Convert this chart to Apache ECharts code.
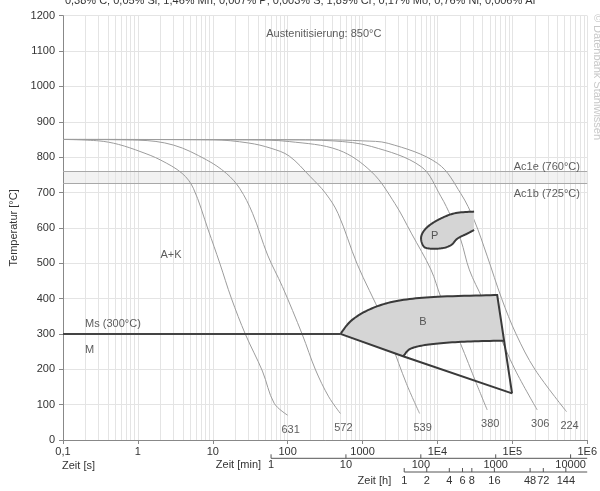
<!DOCTYPE html>
<html>
<head>
<meta charset="utf-8">
<script src="https://cdn.jsdelivr.net/npm/echarts@6/dist/echarts.min.js"></script>
<style>
  html, body { margin: 0; padding: 0; background: #fff; }
  #chart { width: 600px; height: 491px; }
</style>
</head>
<body>
<div id="chart"></div>
<script>
// ZTU-Schaubild (kontinuierliche Abkühlung)
const composition = '0,38% C; 0,05% Si; 1,46% Mn; 0,007% P; 0,003% S; 1,89% Cr; 0,17% Mo; 0,76% Ni; 0,006% Al';
const austenitizing = 'Austenitisierung: 850°C';
const watermark = '© Datenbank Stahlwissen';

// Achsen
const secLabels = ['0,1', '1', '10', '100', '1000', '1E4', '1E5', '1E6'];
const minTicks = [1, 10, 100, 1000, 10000];
const hourTicks = [1, 2, 4, 6, 8, 16, 48, 72, 144];

// Umwandlungspunkte [°C]
const ac1e = 760;
const ac1b = 725;
const msTemp = 300;

// Abkühlkurven [Zeit s, Temperatur °C]
const curve1 = [[0.1, 850], [0.3, 846], [0.55, 836], [1.1, 815], [2, 792], [3.9, 754], [5.5, 712], [8.7, 594], [12.4, 500], [17.7, 401], [27.4, 298], [46, 195], [66, 104], [100, 70]];
const curve2 = [[0.1, 850], [1, 848], [3, 834], [8.3, 792], [15.2, 754], [22.8, 712], [34, 641], [54, 523], [85, 434], [157, 298], [236, 198], [354, 122], [506, 75]];
const curve3 = [[0.1, 850], [10, 849], [30, 840], [60, 825], [105, 803], [200, 745], [320, 698], [470, 641], [850, 497], [1795, 349], [2432, 273], [3846, 160], [5780, 75]];
const curve4 = [[0.1, 850], [30, 849], [105, 844], [479, 820], [1324, 758], [2700, 669], [4477, 585], [8220, 481], [11070, 405], [20300, 273], [33100, 160], [46200, 85]];
const curve5 = [[0.1, 850], [100, 849], [400, 846], [1324, 830], [6067, 773], [11170, 688], [15150, 632], [20500, 566], [26700, 481], [40000, 400], [62800, 311], [108000, 200], [215000, 85]];
const curve6 = [[0.1, 850], [300, 849], [1000, 846], [2200, 839], [10090, 782], [20500, 697], [30900, 622], [46200, 520], [72000, 400], [112000, 300], [200000, 200], [530000, 80]];
const hardness = [631, 572, 539, 380, 306, 224];

// Bainitgebiet
const bTop = [[506, 300], [720, 339], [1324, 372], [2985, 394], [10090, 405], [62800, 410]];
const bRight = [[62800, 410], [77600, 281], [99100, 132]];
const bInner = [[77600, 281], [22760, 278], [8230, 271], [4477, 259], [3581, 240], [3475, 237]];
const bLower = [[506, 300], [3475, 237], [99100, 132]];

// Perlitgebiet (rechts offen)
const pOutline = [[30850, 646], [16790, 641], [10090, 622], [7066, 599], [6067, 575], [6395, 551], [7447, 542], [11160, 542], [15140, 551], [18570, 570], [25170, 584], [30850, 594]];

// Gefügebeschriftungen [Zeit s, Temperatur °C, Text]
const phaseLabels = [[2.0, 523, 'A+K'], [0.197, 327, 'Ms (300°C)'], [0.197, 256, 'M']];
const centerLabels = [[6395, 334, 'B'], [9206, 577, 'P'], [304, 1148, austenitizing]];
const ac1Labels = [[104500, 773, 'Ac1e (760°C)'], [104500, 696, 'Ac1b (725°C)']];

const FONT = '"Liberation Sans", Arial, sans-serif';
const TEXT = '#333';
const curves = [curve1, curve2, curve3, curve4, curve5, curve6];

// Grid-Hilfslinien bei 2..9 jeder Dekade
const minorX = [];
for (let d = -1; d <= 5; d++) {
  for (let m = 2; m <= 9; m++) minorX.push({ xAxis: m * Math.pow(10, d) });
}

// Catmull-Rom-Glättung in Pixelkoordinaten
function smoothPx(pts, steps) {
  const out = [];
  for (let i = 0; i < pts.length - 1; i++) {
    const p0 = pts[i - 1] || pts[i], p1 = pts[i], p2 = pts[i + 1], p3 = pts[i + 2] || pts[i + 1];
    for (let s = 0; s < steps; s++) {
      const t = s / steps, t2 = t * t, t3 = t2 * t;
      const f = k => 0.5 * (2 * p1[k] + (-p0[k] + p2[k]) * t + (2 * p0[k] - 5 * p1[k] + 4 * p2[k] - p3[k]) * t2 + (-p0[k] + 3 * p1[k] - 3 * p2[k] + p3[k]) * t3);
      out.push([f(0), f(1)]);
    }
  }
  out.push(pts[pts.length - 1]);
  return out;
}

const chart = echarts.init(document.getElementById('chart'));

const curveSeries = curves.map((c, i) => ({
  type: 'line', name: 'K' + hardness[i], data: c, smooth: 0.35, showSymbol: false, silent: true,
  lineStyle: { color: '#9c9c9c', width: 1 }, z: 3
}));

chart.setOption({
  animation: false,
  textStyle: { fontFamily: FONT },
  grid: { left: 61.7, right: 8.7, top: 15.7, bottom: 51, containLabel: false },
  xAxis: {
    type: 'log', logBase: 10, min: 0.1, max: 1e6, splitNumber: 7,
    axisLine: { lineStyle: { color: '#888' } },
    axisTick: { length: 4, lineStyle: { color: '#888' } },
    axisLabel: { formatter: v => secLabels[Math.round(Math.log10(v)) + 1], color: TEXT, fontSize: 11, margin: 6, fontFamily: FONT },
    splitLine: { show: true, lineStyle: { color: '#e4e4e4' } }
  },
  yAxis: {
    type: 'value', min: 0, max: 1200, interval: 100,
    axisLine: { show: true, lineStyle: { color: '#888' } },
    axisTick: { show: true, length: 4, lineStyle: { color: '#888' } },
    axisLabel: { formatter: v => String(v), color: TEXT, fontSize: 11, margin: 8, fontFamily: FONT },
    splitLine: { lineStyle: { color: '#e4e4e4' } },
    name: 'Temperatur [°C]', nameLocation: 'middle', nameGap: 44,
    nameTextStyle: { color: TEXT, fontSize: 11, fontFamily: FONT }
  },
  series: [
    {
      type: 'line', name: 'raster', data: [], silent: true, z: 0,
      markLine: { silent: true, z: 0, symbol: ['none', 'none'], label: { show: false }, animation: false,
        lineStyle: { color: '#e4e4e4', type: 'solid', width: 1 }, data: minorX },
      markArea: { silent: true, z: 0, itemStyle: { color: 'rgba(0,0,0,0.05)' }, data: [[{ yAxis: ac1b }, { yAxis: ac1e }]] }
    },
    {
      type: 'line', name: 'Ac1', data: [], silent: true, z: 1,
      markLine: { silent: true, z: 1, symbol: ['none', 'none'], label: { show: false }, animation: false,
        lineStyle: { color: '#a8a8a8', type: 'solid', width: 1 }, data: [{ yAxis: ac1e }, { yAxis: ac1b }] }
    },
    ...curveSeries,
    {
      type: 'line', name: 'Ms', data: [[0.1, msTemp], [bTop[0][0], msTemp]], showSymbol: false, silent: true,
      lineStyle: { color: '#444', width: 2 }, z: 4
    },
    {
      type: 'custom', name: 'Bainit', data: [[1, 1]], silent: true, z: 4,
      renderItem: (params, api) => {
        const c = p => api.coord(p);
        const top = smoothPx(bTop.map(c), 12);
        const inner = smoothPx(bInner.map(c), 12);
        const fill = top.concat(inner).concat([c(bLower[0])]);
        const outline = top.concat(bRight.slice(1).map(c));
        const stroke = { fill: null, stroke: '#3a3a3a', lineWidth: 2 };
        return { type: 'group', children: [
          { type: 'polygon', shape: { points: fill }, style: { fill: '#d5d5d5' } },
          { type: 'polyline', shape: { points: outline }, style: stroke },
          { type: 'polyline', shape: { points: bLower.map(c) }, style: stroke },
          { type: 'polyline', shape: { points: inner }, style: stroke }
        ] };
      }
    },
    {
      type: 'custom', name: 'Perlit', data: [[1, 1]], silent: true, z: 4,
      renderItem: (params, api) => {
        const pts = smoothPx(pOutline.map(p => api.coord(p)), 12);
        return { type: 'group', children: [
          { type: 'polygon', shape: { points: pts }, style: { fill: '#d5d5d5' } },
          { type: 'polyline', shape: { points: pts }, style: { fill: null, stroke: '#3a3a3a', lineWidth: 2 } }
        ] };
      }
    },
    {
      type: 'scatter', name: 'Härte', silent: true, z: 5, symbolSize: 0,
      data: curves.map((c, i) => [c[c.length - 1][0], c[c.length - 1][1], hardness[i]]),
      label: { show: true, position: 'bottom', distance: 9, offset: [3, 0], formatter: p => p.value[2], color: TEXT, fontSize: 11, fontFamily: FONT }
    },
    {
      type: 'scatter', name: 'Gefüge', silent: true, z: 5, symbolSize: 0,
      data: phaseLabels,
      label: { show: true, position: 'right', distance: 0, formatter: p => p.value[2], color: TEXT, fontSize: 11, fontFamily: FONT }
    },
    {
      type: 'scatter', name: 'Gebiete', silent: true, z: 5, symbolSize: 0,
      data: centerLabels,
      label: { show: true, position: 'inside', formatter: p => p.value[2], color: TEXT, fontSize: 11, fontFamily: FONT }
    },
    {
      type: 'scatter', name: 'Ac1-Text', silent: true, z: 5, symbolSize: 0,
      data: ac1Labels,
      label: { show: true, position: 'right', distance: 0, formatter: p => p.value[2], color: TEXT, fontSize: 11, fontFamily: FONT }
    }
  ]
});

// Zusätzliche Zeitachsen in Minuten und Stunden, ausgerichtet an der Sekundenachse
const px = t => chart.convertToPixel({ xAxisIndex: 0 }, t);
const xEnd = px(1e6);
const minY = 458.3, hourY = 472;
const g = [];
const txt = (x, y, s, align) => ({ type: 'text', x, y, silent: true,
  style: { text: s, fill: TEXT, font: '11px ' + FONT, textAlign: align || 'center', textVerticalAlign: 'middle' } });
const seg = (x1, y1, x2, y2) => ({ type: 'line', silent: true, shape: { x1, y1, x2, y2 }, style: { stroke: '#555', lineWidth: 1 } });

g.push(seg(px(60), minY, xEnd, minY));
minTicks.forEach(m => { const x = px(m * 60); g.push(seg(x, minY, x, minY - 4)); g.push(txt(x, minY + 7, String(m))); });
g.push(seg(px(3600), hourY, xEnd, hourY));
hourTicks.forEach(h => { const x = px(h * 3600); g.push(seg(x, hourY, x, hourY - 4)); g.push(txt(x, hourY + 8.5, String(h))); });

g.push(txt(62, 466, 'Zeit [s]', 'left'));
g.push(txt(px(60) - 10, minY + 7, 'Zeit [min]', 'right'));
g.push(txt(px(3600) - 13, hourY + 8.5, 'Zeit [h]', 'right'));
g.push(txt(300, 1, composition));
g.push({ type: 'text', x: 597, y: 77, rotation: -Math.PI / 2, silent: true,
  style: { text: watermark, fill: '#c8c8c8', font: '11px ' + FONT, textAlign: 'center', textVerticalAlign: 'middle' } });

chart.setOption({ graphic: g });
</script>
</body>
</html>
